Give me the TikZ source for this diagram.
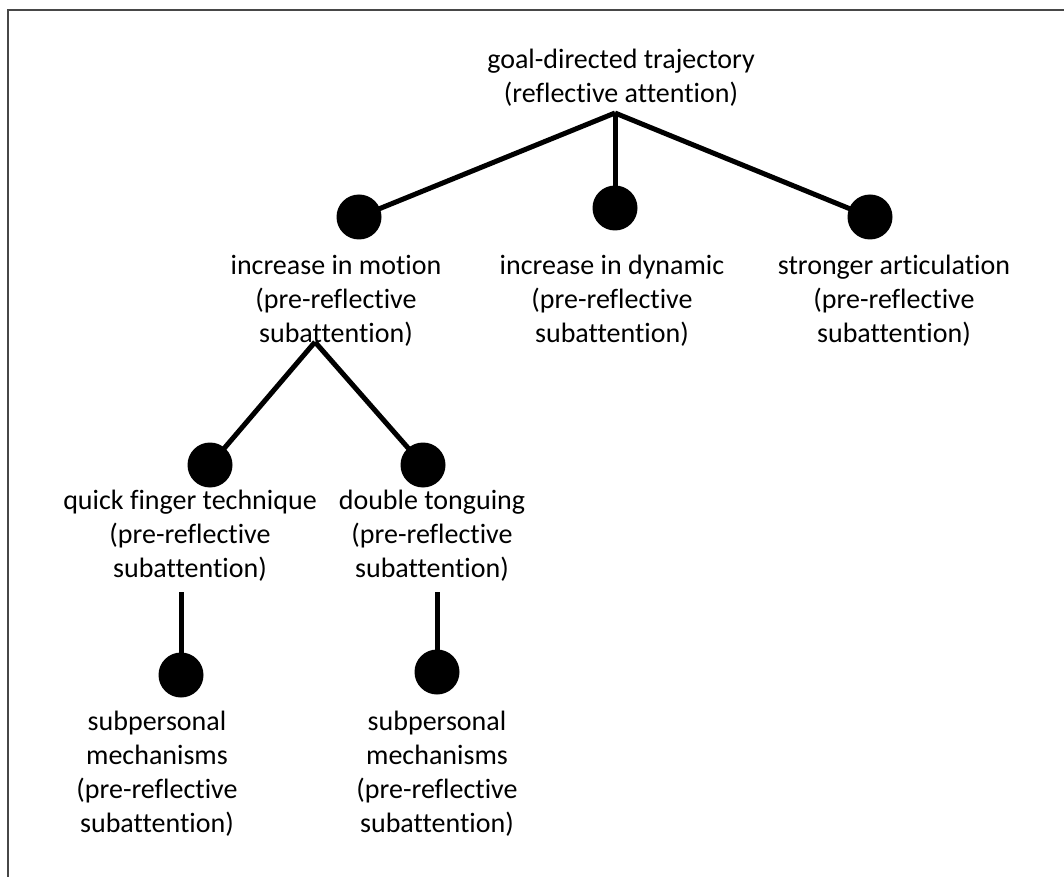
\documentclass[tikz,border=0pt]{standalone}
\usepackage{fontspec}
\setmainfont{Carlito}[Ligatures=NoCommon]
\begin{document}
\begin{tikzpicture}[x=0.75pt,y=-0.75pt,
  % the box of a label is fixed to its last line, so a label is placed by that line
  lbl/.style={align=center, inner sep=0pt,
    font=\fontsize{21}{25.5}\selectfont,
    text height=13.8pt, text depth=4pt},
  dot/.style={circle, fill=black, draw=none, minimum size=33.75pt, inner sep=0pt},
  branch/.style={line width=3.75pt, line cap=butt},
  frame/.style={draw=black!72, line width=1.5pt}]
\useasboundingbox (0,0) rectangle (1064,877);
% outer frame (only its top and left edges fall inside the page)
\draw[frame] (8,877) -- (8,10) -- (1064,10);

% root
\node[lbl] (goal) at (621,96) {goal-directed trajectory\\(reflective attention)};
\coordinate (top) at (615,113);

% first level
\node[dot] (dmotion) at (359,217) {};
\node[dot] (ddynamic) at (615,208) {};
\node[dot] (dartic) at (870,217) {};
\node[lbl] (motion) at (336,336) {increase in motion\\(pre-reflective\\subattention)};
\node[lbl] (dynamic) at (612,336) {increase in dynamic\\(pre-reflective\\subattention)};
\node[lbl] (artic) at (894,336) {stronger articulation\\(pre-reflective\\subattention)};
\draw[branch] (top) -- (dmotion.center);
\draw[branch] (top) -- (ddynamic.center);
\draw[branch] (top) -- (dartic.center);

% second level
\coordinate (mid) at (315,342);
\node[dot] (dquick) at (210,465) {};
\node[dot] (ddouble) at (423,465) {};
\node[lbl] (quick) at (190,571) {quick finger technique\\(pre-reflective\\subattention)};
\node[lbl] (double) at (432,571) {double tonguing\\(pre-reflective\\subattention)};
\draw[branch] (mid) -- (dquick.center);
\draw[branch] (mid) -- (ddouble.center);

% third level
\coordinate (qstem) at (181,592);
\coordinate (dstem) at (437,592);
\node[dot] (dsubq) at (181,675) {};
\node[dot] (dsubd) at (437,672) {};
\node[lbl] (subq) at (157,826) {subpersonal\\mechanisms\\(pre-reflective\\subattention)};
\node[lbl] (subd) at (437,826) {subpersonal\\mechanisms\\(pre-reflective\\subattention)};
\draw[branch] (qstem) -- (dsubq.center);
\draw[branch] (dstem) -- (dsubd.center);
\end{tikzpicture}
\end{document}
